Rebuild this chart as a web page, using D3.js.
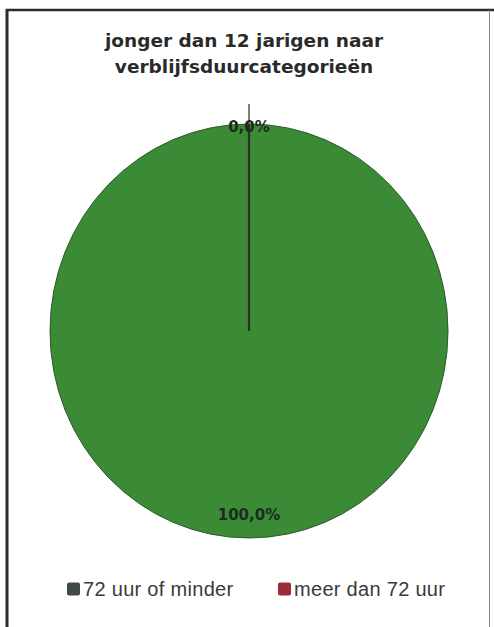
<!DOCTYPE html>
<html>
<head>
<meta charset="utf-8">
<script src="https://cdn.jsdelivr.net/npm/d3@7"></script>
<style>
  body { margin: 0; background: #fff; }
  svg { display: block; }
</style>
</head>
<body>
<div id="chart"></div>
<script>
const titleLines = ["jonger dan 12 jarigen naar", "verblijfsduurcategorieën"];
const categories = ["72 uur of minder", "meer dan 72 uur"];
const values = [100, 0];
const percentLabels = ["100,0%", "0,0%"];
const colors = ["#3b8a36", "#9b2c3c"];

const width = 494, height = 627;
const cx = 249, cy = 331, rx = 199, ry = 207;

const svg = d3.select("#chart").append("svg")
    .attr("width", width)
    .attr("height", height);

// frame like a scanned excel chart
svg.append("rect").attr("x", 0).attr("y", 0).attr("width", width).attr("height", height).attr("fill", "#fff");
svg.append("line").attr("x1", 7).attr("x2", 7).attr("y1", 9).attr("y2", height)
    .attr("stroke", "#2b2b33").attr("stroke-width", 3);
svg.append("line").attr("x1", 6).attr("x2", 494).attr("y1", 10).attr("y2", 10)
    .attr("stroke", "#2b2b33").attr("stroke-width", 2.5);
svg.append("line").attr("x1", 489.5).attr("x2", 489.5).attr("y1", 10).attr("y2", height)
    .attr("stroke", "#888").attr("stroke-width", 1);

const title = svg.append("text")
    .attr("text-anchor", "middle")
    .attr("font-family", "DejaVu Sans, Verdana, sans-serif")
    .attr("font-weight", "bold")
    .attr("font-size", 18.5)
    .attr("fill", "#2a2a2a");
titleLines.forEach((t, i) => {
  title.append("tspan").attr("x", 244).attr("y", 47 + i * 26).text(t);
});

const pie = d3.pie().sort(null).value(d => d)(values);
const arc = d3.arc().innerRadius(0).outerRadius(rx);

const g = svg.append("g")
    .attr("transform", `translate(${cx},${cy}) scale(1,${ry / rx})`);

g.selectAll("path.slice")
  .data(pie)
  .enter().append("path")
    .attr("class", "slice")
    .attr("d", arc)
    .attr("fill", (d, i) => colors[i])
    .attr("stroke", (d, i) => d.value === 0 ? "#2a2f2a" : "#2f5a2c")
    .attr("stroke-width", (d, i) => d.value === 0 ? 2.2 : 1)
    .attr("vector-effect", "non-scaling-stroke");

// leader line for the zero slice
pie.filter(d => d.value === 0).forEach(d => {
  const a = d.startAngle;
  svg.append("line")
    .attr("x1", cx + rx * Math.sin(a)).attr("y1", cy - ry * Math.cos(a))
    .attr("x2", cx + (rx + 20) * Math.sin(a)).attr("y2", cy - (ry + 20) * Math.cos(a))
    .attr("stroke", "#555").attr("stroke-width", 1.5);
});

// percentage labels
pie.forEach((d, i) => {
  const a = (d.startAngle + d.endAngle) / 2;
  const k = d.value === 0 ? 0.985 : 0.89;
  svg.append("text")
    .attr("x", cx + rx * k * Math.sin(a))
    .attr("y", cy - ry * k * Math.cos(a))
    .attr("dy", "0.35em")
    .attr("text-anchor", "middle")
    .attr("font-family", "DejaVu Sans, Verdana, sans-serif")
    .attr("font-weight", "bold")
    .attr("font-size", 15)
    .attr("fill", "#1e2a1e")
    .text(percentLabels[i]);
});

// legend
const legendX = [67, 278];
const legend = svg.selectAll("g.legend")
  .data(categories)
  .enter().append("g")
    .attr("class", "legend")
    .attr("transform", (d, i) => `translate(${legendX[i]},589)`);
legend.append("rect")
    .attr("x", 0).attr("y", -6.5).attr("width", 13).attr("height", 13).attr("rx", 2)
    .attr("fill", (d, i) => i === 0 ? "#3f4a44" : colors[1]);
legend.append("text")
    .attr("x", 16).attr("y", 0).attr("dy", "0.35em")
    .attr("font-family", "Liberation Sans, Arial, sans-serif")
    .attr("font-size", 20)
    .attr("letter-spacing", 0.3)
    .attr("fill", "#3a3a3a")
    .text(d => d);
</script>
</body>
</html>
